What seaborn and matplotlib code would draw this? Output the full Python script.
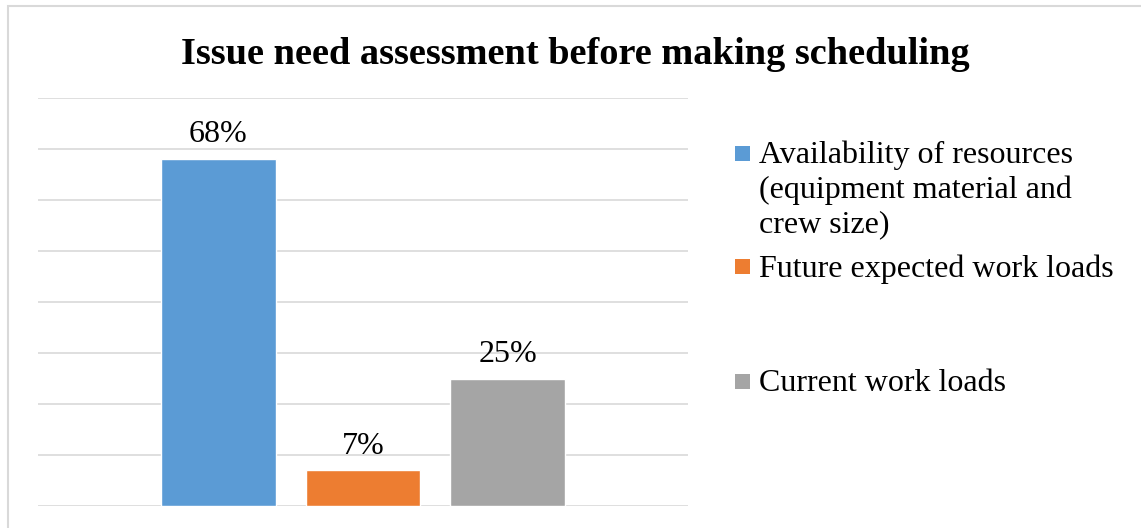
import matplotlib
matplotlib.use("Agg")
import matplotlib.pyplot as plt
from matplotlib.patches import Rectangle
import seaborn as sns
import pandas as pd

# Survey results
issues = [
    "Availability of resources\n(equipment material and\ncrew size)",
    "Future expected work loads",
    "Current work loads",
]
shares = [0.68, 0.07, 0.25]
value_labels = ["68%", "7%", "25%"]
colors = ["#5B9BD5", "#ED7D31", "#A5A5A5"]
title = "Issue need assessment before making scheduling"

df = pd.DataFrame({"group": [""] * len(issues), "issue": issues, "share": shares})

sns.set_theme(style="white")
plt.rcParams["font.family"] = ["Liberation Serif", "DejaVu Serif"]

fig = plt.figure(figsize=(11.41, 5.28), dpi=100)
ax = fig.add_axes([38 / 1141, 22 / 528, 650 / 1141, 408 / 528])

sns.barplot(data=df, x="group", y="share", hue="issue", hue_order=issues,
            palette=colors, width=0.667, gap=0.21, saturation=1,
            legend=False, ax=ax)

ax.set_xlim(-0.5, 0.5)
ax.set_ylim(0, 0.8)
ax.set_yticks([i / 10 for i in range(9)])
ax.grid(axis="y", color="#D9D9D9", linewidth=1.2)
ax.set_axisbelow(True)
for s in ax.spines.values():
    s.set_visible(False)
ax.tick_params(left=False, bottom=False, labelleft=False, labelbottom=False)
ax.set_xlabel("")
ax.set_ylabel("")

for bar, txt in zip(ax.patches, value_labels):
    ax.annotate(txt, (bar.get_x() + bar.get_width() / 2, bar.get_height()),
                xytext=(0, 7), textcoords="offset points",
                ha="center", va="bottom", fontsize=23, color="#000000")

fig.text(0.504, 1 - 55 / 528, title, ha="center", va="center",
         fontsize=27.6, fontweight="bold", color="#000000")

# Legend entries placed on the right side
legend_rows = [(154, 0), (267, 1), (382, 2)]
for y_px, i in legend_rows:
    y = 1 - y_px / 528
    fig.patches.append(Rectangle((735 / 1141, y - 7 / 528), 15 / 1141, 15 / 528,
                                 transform=fig.transFigure, facecolor=colors[i],
                                 edgecolor="none"))
    fig.text(759 / 1141, y + 13 / 528, issues[i], ha="left", va="top",
             fontsize=23, linespacing=1.22, color="#000000")

# Chart frame
fig.patches.append(Rectangle((7.5 / 1141, -0.05), 1.2, 1 - 5.5 / 528 + 0.05,
                             transform=fig.transFigure, facecolor="none",
                             edgecolor="#D9D9D9", linewidth=1.5))

fig.savefig("out.png", dpi=100, facecolor="white")
